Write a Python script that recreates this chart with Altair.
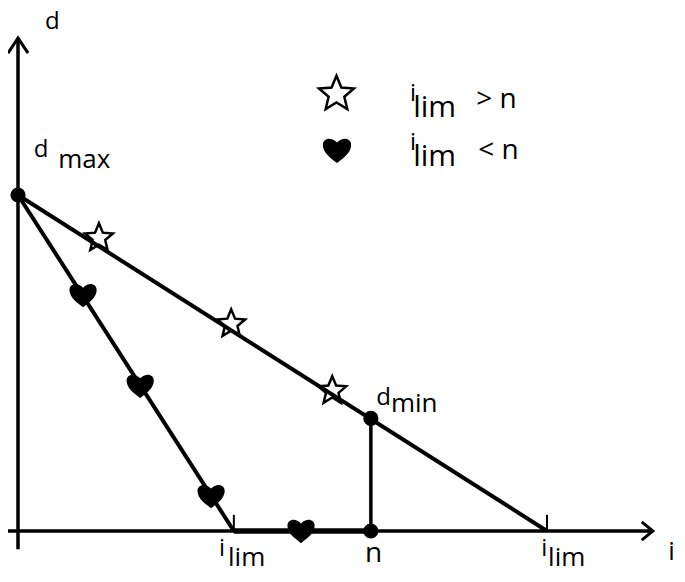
import math
import altair as alt
import pandas as pd

# ---- diagram values (abstract units: i_lim(high)=10, d_max=10) ----
i_lim_low = 4.08
n_val = 6.67
i_lim_high = 10.0
d_max = 10.0
d_min = 3.35
i_axis_end = 12.0
d_axis_end = 14.67

star_i = [1.53, 4.03, 5.94]
star_d = [8.72, 6.16, 4.17]
heart_i = [1.23, 2.31, 3.65, 5.35]
heart_d = [7.02, 4.32, 1.04, 0.0]

legend_star = (6.02, 13.0)
legend_heart = (6.03, 11.33)

label_text = ["d", "d", "max", "d", "min",
              "i", "lim", "> n", "i", "lim", "< n",
              "i", "lim", "n", "i", "lim", "i"]
label_i = [0.51, 0.30, 0.76, 6.77, 7.05,
           7.41, 7.47, 8.66, 7.41, 7.47, 8.70,
           3.80, 3.97, 6.56, 9.89, 10.02, 12.29]
label_d = [14.93, 11.13, 10.80, 3.75, 3.54,
           12.80, 12.32, 12.59, 11.34, 10.86, 11.07,
           -0.74, -1.04, -0.92, -0.74, -1.04, -0.86]
label_size = [24, 24, 26, 24, 26,
              24, 30, 28, 24, 30, 28,
              24, 26, 28, 24, 26, 26]

# ---- shapes ----
pts = []
for k in range(10):
    a = math.radians(-90 + 36 * k)
    r = 1.0 if k % 2 == 0 else 0.45
    pts.append(f"{r*math.cos(a):.3f},{r*math.sin(a):.3f}")
STAR = "M" + " L".join(pts) + " Z"
HEART = ("M0,0.9 C-0.35,0.6 -1,0.2 -1,-0.38 C-1,-0.85 -0.42,-1 0,-0.55 "
         "C0.42,-1 1,-0.85 1,-0.38 C1,0.2 0.35,0.6 0,0.9 Z")

# ---- segments ----
rows = []
def seg(name, w, coords):
    for k, (a, b) in enumerate(coords):
        rows.append({"seg": name, "o": k, "i": a, "d": b, "w": w})

seg("xaxis", 3.5, [(-0.32, 0), (i_axis_end, 0)])
seg("yaxis", 3.5, [(0, -0.54), (0, d_axis_end)])
seg("xarrow", 3.0, [(i_axis_end - 0.21, 0.27), (i_axis_end, 0), (i_axis_end - 0.21, -0.27)])
seg("yarrow", 3.0, [(-0.19, d_axis_end - 0.45), (0, d_axis_end), (0.19, d_axis_end - 0.45)])
seg("upper", 4.0, [(0, d_max), (i_lim_high, 0)])
seg("lower", 4.0, [(0, d_max), (i_lim_low, 0)])
seg("flat", 5.5, [(i_lim_low, 0), (n_val, 0)])
seg("vert", 3.5, [(n_val, d_min), (n_val, 0)])
seg("tick1", 2.0, [(i_lim_low, 0), (i_lim_low, 0.48)])
seg("tick2", 2.0, [(i_lim_high, 0), (i_lim_high, 0.48)])
lines_df = pd.DataFrame(rows)

dots_df = pd.DataFrame({"i": [0, n_val, n_val], "d": [d_max, d_min, 0]})
stars_df = pd.DataFrame({"i": star_i + [legend_star[0]], "d": star_d + [legend_star[1]],
                         "s": [860, 860, 860, 1350]})
hearts_df = pd.DataFrame({"i": heart_i + [legend_heart[0]], "d": heart_d + [legend_heart[1]],
                          "s": [740, 740, 740, 740, 800]})
text_df = pd.DataFrame({"t": label_text, "i": label_i, "d": label_d, "fs": label_size})

xs = alt.Scale(domain=[-0.189, 12.457], nice=False, zero=False)
ys = alt.Scale(domain=[-1.101, 15.565], nice=False, zero=False)
X = alt.X("i:Q", scale=xs, axis=None)
Y = alt.Y("d:Q", scale=ys, axis=None)

lines = alt.Chart(lines_df).mark_line(color="black", strokeCap="butt", strokeJoin="miter").encode(
    x=X, y=Y, detail="seg:N", order="o:Q",
    strokeWidth=alt.StrokeWidth("w:Q", scale=None))

dots = alt.Chart(dots_df).mark_point(shape="circle", filled=True, color="black", size=230, opacity=1).encode(x=X, y=Y)

stars = alt.Chart(stars_df).mark_point(shape=STAR, filled=False, color="black", strokeWidth=2.5, opacity=1).encode(
    x=X, y=Y, size=alt.Size("s:Q", scale=None))

hearts = alt.Chart(hearts_df).mark_point(shape=HEART, filled=True, color="black", opacity=1).encode(
    x=X, y=Y, size=alt.Size("s:Q", scale=None))

texts = alt.Chart(text_df).mark_text(align="left", baseline="alphabetic", font="Open Sans",
                                     color="black").encode(
    x=X, y=Y, text="t:N", size=alt.Size("fs:Q", scale=None))

chart = alt.layer(lines, dots, stars, hearts, texts).properties(
    width=669, height=560, padding=0, autosize=alt.AutoSizeParams(type="none")
).configure_view(stroke=None)

chart.save("out.html", embed_options={"renderer": "svg", "actions": False})
